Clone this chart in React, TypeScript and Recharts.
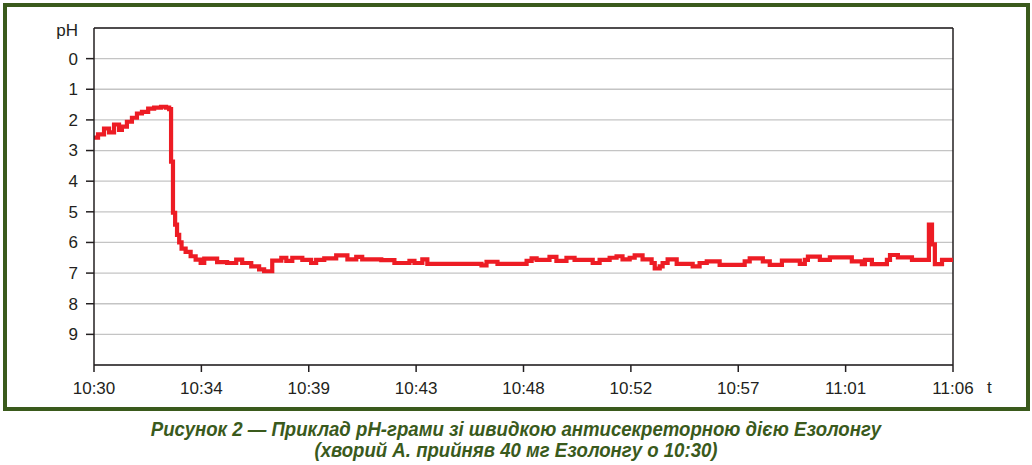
import React from 'react';
import { LineChart, Line, XAxis, YAxis, CartesianGrid, ReferenceLine } from 'recharts';

// minutes after 10:30
const timeMin = [
  0, 0.17, 0.42, 0.63, 0.84, 1.05, 1.17, 1.38, 1.59, 1.8, 2.01, 2.27, 2.52, 2.81, 3.02, 3.15,
  3.23, 3.31, 3.4, 3.48, 3.57, 3.67, 3.84, 4.05, 4.26, 4.47, 4.62, 5.16, 5.58, 5.96, 6.21,
  6.59, 6.92, 7.13, 7.47, 7.85, 8.06, 8.31, 8.73, 9.1, 9.31, 9.65, 10.15, 10.62, 10.99, 11.24,
  12.04, 12.59, 13.22, 13.43, 13.76, 13.97, 16.24, 16.45, 16.91, 18.13, 18.34, 18.55, 19.09,
  19.38, 19.8, 20.14, 20.9, 21.19, 21.61, 21.9, 22.15, 22.45, 22.66, 22.99, 23.37, 23.5,
  23.71, 23.83, 24.04, 24.42, 25.09, 25.38, 25.68, 26.22, 27.27, 27.48, 28.03, 28.32,
  28.83, 29.58, 29.79, 29.92, 30.42, 30.84, 31.76, 32.18, 32.31, 32.6, 33.23, 33.36, 33.69,
  34.28, 34.99, 35.12, 35.24, 35.54, 36,
];
const phValues = [
  2.58, 2.47, 2.28, 2.41, 2.15, 2.33, 2.22, 2.06, 1.93, 1.79, 1.74, 1.63, 1.6, 1.57, 1.6, 1.65,
  3.36, 5.03, 5.42, 5.75, 6.0, 6.2, 6.31, 6.45, 6.56, 6.67, 6.53, 6.64, 6.67, 6.56, 6.67,
  6.78, 6.88, 6.94, 6.59, 6.5, 6.6, 6.5, 6.57, 6.67, 6.57, 6.52, 6.42, 6.55, 6.47, 6.55,
  6.58, 6.67, 6.6, 6.67, 6.55, 6.7, 6.75, 6.63, 6.7, 6.6, 6.52, 6.57, 6.47,
  6.6, 6.5, 6.57, 6.67, 6.57, 6.5, 6.45, 6.55, 6.5, 6.42, 6.55, 6.67, 6.85,
  6.78, 6.67, 6.55, 6.7, 6.78, 6.67, 6.62, 6.73, 6.62, 6.52, 6.62, 6.73,
  6.59, 6.7, 6.57, 6.46, 6.57, 6.49, 6.62, 6.71, 6.57, 6.71, 6.57, 6.41, 6.49,
  6.57, 5.42, 6.06, 6.71, 6.57, 6.57,
];
const xTicks = [0, 4.5, 9, 13.5, 18, 22.5, 27, 31.5, 36];
const yTicks = [-1, 0, 1, 2, 3, 4, 5, 6, 7, 8, 9];
const yTopLabel = 'pH';
const xUnitLabel = 't';
const captionLine1 = 'Рисунок 2 — Приклад pH-грами зі швидкою антисекреторною дією Езолонгу';
const captionLine2 = '(хворий А. прийняв 40 мг Езолонгу о 10:30)';

const data = timeMin.map((t, i) => ({ t, ph: phValues[i] }));

const fmtTime = (m: number) => {
  const total = 10 * 60 + 30 + Math.floor(m);
  const h = Math.floor(total / 60);
  const mm = total % 60;
  return `${h}:${mm < 10 ? '0' : ''}${mm}`;
};

const TEXT = '#231f20';
const FONT = "'Liberation Sans', Arial, sans-serif";
const FS = 17;

const YTick = (props: any) => {
  const { x, y, payload } = props;
  if (payload.value === -1) {
    return (
      <text x={x} y={y + 2} dy="0.35em" textAnchor="end" fill={TEXT} fontSize={FS} fontFamily={FONT}>
        {yTopLabel}
      </text>
    );
  }
  return (
    <g>
      <line x1={x + 8} x2={x + 16} y1={y} y2={y} stroke={TEXT} strokeWidth={1.5} />
      <text x={x} y={y} dy="0.35em" textAnchor="end" fill={TEXT} fontSize={FS} fontFamily={FONT}>
        {payload.value}
      </text>
    </g>
  );
};

export default function App() {
  return (
    <div style={{ position: 'fixed', left: 0, top: 0, width: 1032, height: 465, background: '#fff', overflow: 'hidden' }}>
      <div
        style={{
          position: 'absolute', left: 3, top: 3, width: 1027, height: 408,
          border: '4px solid #3a5a1c', boxSizing: 'border-box',
        }}
      />
      <div style={{ position: 'absolute', left: 0, top: 0 }}>
        <LineChart width={1032} height={465} data={data} margin={{ top: 28, right: 79, bottom: 70, left: 54 }}>
          <CartesianGrid horizontal vertical={false} stroke="#c4c4c4" strokeWidth={1.3} />
          <XAxis
            dataKey="t"
            type="number"
            domain={[0, 36]}
            ticks={xTicks}
            tickFormatter={fmtTime}
            height={30}
            axisLine={{ stroke: TEXT, strokeWidth: 1.5 }}
            tickLine={{ stroke: TEXT, strokeWidth: 1.5 }}
            tickSize={7}
            tickMargin={10}
            tick={{ fill: TEXT, fontSize: FS, fontFamily: FONT }}
            interval={0}
          />
          <YAxis
            type="number"
            domain={[-1, 10]}
            reversed
            ticks={yTicks}
            width={40}
            axisLine={{ stroke: TEXT, strokeWidth: 1.5 }}
            tickLine={false}
            tickSize={8}
            tickMargin={8}
            tick={<YTick />}
            interval={0}
          />
          <ReferenceLine y={-1} stroke={TEXT} strokeWidth={1.5} ifOverflow="extendDomain" />
          <ReferenceLine x={36} stroke={TEXT} strokeWidth={1.5} />
          <Line
            dataKey="ph"
            type="stepAfter"
            stroke="#ed1c24"
            strokeWidth={4.2}
            dot={false}
            isAnimationActive={false}
            strokeLinejoin="miter"
          />
        </LineChart>
      </div>
      <div style={{ position: 'absolute', left: 987, top: 378, fontFamily: FONT, fontSize: FS, color: TEXT }}>
        {xUnitLabel}
      </div>
      <div
        style={{
          position: 'absolute', left: 0, width: 1032, top: 419, textAlign: 'center',
          fontFamily: "'Liberation Sans Narrow', 'Arial Narrow', 'Liberation Sans', sans-serif",
          fontWeight: 'bold', fontStyle: 'italic', fontSize: 20, lineHeight: '21px', color: '#3a5a1c',
          transform: 'scaleX(0.93)', transformOrigin: '516px 0',
        }}
      >
        <div>{captionLine1}</div>
        <div>{captionLine2}</div>
      </div>
    </div>
  );
}
